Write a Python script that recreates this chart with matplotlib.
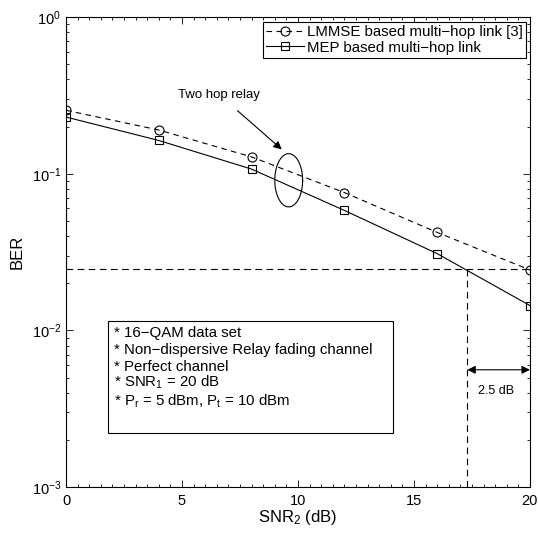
# BER vs SNR2 for two-hop relay (LMMSE vs MEP)
import numpy as np
import matplotlib
matplotlib.use("Agg")
import matplotlib.pyplot as plt
from matplotlib.ticker import MultipleLocator, LogLocator, NullFormatter
from matplotlib.patches import Rectangle

# %% data
snr = [0, 4, 8, 12, 16, 20]
ber_lmmse = [0.254, 0.190, 0.128, 0.0758, 0.0422, 0.0243]
ber_mep = [0.230, 0.163, 0.107, 0.0583, 0.0309, 0.0144]

ber_ref = 0.0245      # horizontal guide line
snr_cross = 17.3      # where MEP reaches ber_ref
gap_label = "2.5 dB"

info_lines = [
    "* 16\u2212QAM data set",
    "* Non\u2212dispersive Relay fading channel",
    "* Perfect channel",
    r"* SNR$_\mathregular{1}$ = 20 dB",
    r"* P$_\mathregular{r}$ = 5 dBm, P$_\mathregular{t}$ = 10 dBm",
]

# %% style
plt.rcParams['font.family'] = ['Liberation Sans', 'DejaVu Sans']
plt.rcParams['mathtext.fontset'] = 'custom'
plt.rcParams['mathtext.rm'] = 'Liberation Sans'
plt.rcParams['mathtext.it'] = 'Liberation Sans:italic'
plt.rcParams['font.size'] = 10

fig = plt.figure(figsize=(5.38, 5.33), dpi=100)
ax = fig.add_axes([0.1227, 0.0863, 0.8623, 0.8817])

ax.semilogy(snr, ber_lmmse, 'k--', marker='o', mfc='none', ms=6.5, lw=0.8,
            mew=0.8, dashes=(5, 4), label="LMMSE based multi\u2212hop link [3]")
ax.semilogy(snr, ber_mep, 'k-', marker='s', mfc='none', ms=5.5, lw=0.8,
            mew=0.8, label="MEP based multi\u2212hop link")

# guide lines
ax.plot([0, 20], [ber_ref, ber_ref], color='k', lw=0.8, dashes=(6, 4))
ax.plot([snr_cross, snr_cross], [1e-3, ber_ref], color='k', lw=0.8, dashes=(6, 4))

# 2.5 dB arrow
ax.annotate("", xy=(20, 0.0056), xytext=(snr_cross, 0.0056),
            arrowprops=dict(arrowstyle='<|-|>', color='k', lw=0.8,
                            mutation_scale=12, shrinkA=0, shrinkB=0))
ax.text(18.55, 0.0041, gap_label, ha='center', va='center', fontsize=9)

# ellipse around the curves
t = np.linspace(0, 2 * np.pi, 200)
ax.plot(9.6 + 0.6 * np.cos(t), 10 ** (-1.042 + 0.17 * np.sin(t)), 'k-', lw=0.8)
ax.annotate("Two hop relay", xy=(9.3, 0.143), xytext=(6.6, 0.32),
            ha='center', va='center', fontsize=9.5,
            arrowprops=dict(arrowstyle='-|>', color='k', lw=0.8,
                            mutation_scale=12, shrinkA=8, shrinkB=0))

# info box
ax.add_patch(Rectangle((0.0905, 0.115), 0.6145, 0.238, transform=ax.transAxes,
                       fill=False, ec='k', lw=0.8))
ys = [0.328, 0.292, 0.256, 0.222, 0.182]
for s, yy in zip(info_lines, ys):
    ax.text(0.103, yy, s, transform=ax.transAxes, ha='left', va='center',
            fontsize=10.8)

# axes
ax.set_xlim(0, 20)
ax.set_ylim(1e-3, 1)
ax.xaxis.set_major_locator(MultipleLocator(5))
ax.xaxis.set_minor_locator(MultipleLocator(0.5))
ax.yaxis.set_major_locator(LogLocator(base=10, numticks=10))
ax.yaxis.set_minor_locator(LogLocator(base=10, subs=np.arange(2, 10), numticks=10))
ax.yaxis.set_minor_formatter(NullFormatter())
ax.tick_params(which='both', direction='in', top=True, right=True, labelsize=10.5)
ax.tick_params(which='major', length=5, width=0.6)
ax.tick_params(which='minor', length=2.5, width=0.6)
ax.tick_params(axis='x', which='major', pad=5)
for sp in ax.spines.values():
    sp.set_linewidth(0.8)

ax.set_xlabel(r"SNR$_\mathregular{2}$ (dB)", fontsize=12, labelpad=0)
ax.set_ylabel("BER", fontsize=12, labelpad=5)

leg = ax.legend(loc='upper right', bbox_to_anchor=(0.991, 0.989), borderaxespad=0,
                fancybox=False, edgecolor='k', framealpha=1, fontsize=10.8,
                handlelength=2.5, handletextpad=0.2, labelspacing=0.1,
                borderpad=0.2)
leg.get_frame().set_linewidth(0.8)

fig.savefig("out.png", dpi=100)
